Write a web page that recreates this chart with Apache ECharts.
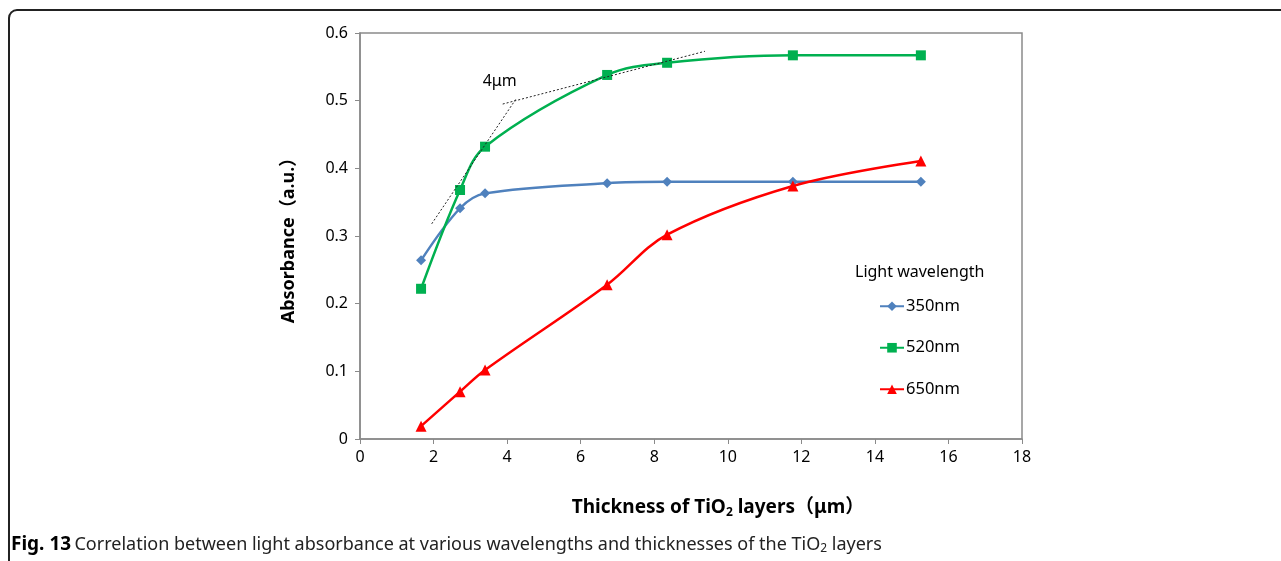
<!DOCTYPE html>
<html>
<head>
<meta charset="utf-8">
<script src="https://cdn.jsdelivr.net/npm/echarts@6/dist/echarts.min.js"></script>
<style>
html,body{margin:0;padding:0;background:#fff;}
#chart_abs{width:1281px;height:561px;}
</style>
</head>
<body>
<div id="chart_abs"></div>
<script>
// thickness of TiO2 layers (um)
var thickness = [1.66, 2.72, 3.4, 6.72, 8.35, 11.77, 15.25];
var abs350 = [0.264, 0.341, 0.363, 0.378, 0.380, 0.380, 0.380];
var abs520 = [0.222, 0.368, 0.432, 0.538, 0.556, 0.567, 0.567];
var abs650 = [0.019, 0.070, 0.102, 0.228, 0.302, 0.374, 0.411];
// dotted tangent lines around 4um
var tangentA = [[1.95, 0.318], [4.26, 0.504]];
var tangentB = [[3.88, 0.495], [9.38, 0.573]];
var seriesNames = ['350nm', '520nm', '650nm'];

function pairs(xs, ys){
    return xs.map(function(x, i){ return [x, ys[i]]; });
}

function fun_Chart_Absorbance(){
    var myChart = echarts.init(document.getElementById('chart_abs'));
    var fontFam = "'Noto Sans', 'Noto Sans CJK SC', sans-serif";
    var option = {
        animation: false,
        textStyle: { fontFamily: fontFam },
        grid: {
            left: 360,
            top: 33,
            right: 259,
            bottom: 122,
            show: true,
            borderColor: '#8a8a8a',
            borderWidth: 1.5
        },
        legend: {
            data: seriesNames,
            orient: 'vertical',
            left: 874,
            top: 293,
            itemGap: 25,
            itemWidth: 24,
            itemHeight: 12,
            textStyle: { fontSize: 16.5, color: '#000', padding: [0, 0, 0, -3] }
        },
        xAxis: {
            type: 'value',
            min: 0,
            max: 18,
            interval: 2,
            name: '{a|Thickness of TiO}{s|2}{a| layers（μm）}',
            nameLocation: 'middle',
            nameGap: 56,
            nameTextStyle: {
                padding: [0, 0, 0, 54],
                rich: {
                    a: { fontSize: 19, fontWeight: 'bold', color: '#000', lineHeight: 26, fontFamily: fontFam },
                    s: { fontSize: 12, fontWeight: 'bold', color: '#000', lineHeight: 26, padding: [10, 0, 0, 0], fontFamily: fontFam }
                }
            },
            splitLine: { show: false },
            axisLine: { lineStyle: { color: '#8a8a8a', width: 1.5 } },
            axisTick: { inside: false, length: 5, lineStyle: { color: '#8a8a8a' } },
            axisLabel: { fontSize: 16, color: '#000', margin: 10 }
        },
        yAxis: {
            type: 'value',
            min: 0,
            max: 0.6,
            interval: 0.1,
            name: 'Absorbance（a.u.）',
            nameLocation: 'middle',
            nameGap: 62,
            nameTextStyle: { fontSize: 18, fontWeight: 'bold', color: '#000' },
            splitLine: { show: false },
            axisLine: { show: true, lineStyle: { color: '#8a8a8a', width: 1.5 } },
            axisTick: { show: true, length: 5, lineStyle: { color: '#8a8a8a' } },
            axisLabel: { fontSize: 16, color: '#000', margin: 12 }
        },
        graphic: [
            {
                type: 'rect',
                shape: { x: 9, y: 10, width: 1300, height: 600, r: 8 },
                style: { fill: 'none', stroke: '#222', lineWidth: 2 }
            },
            {
                type: 'text',
                left: 855,
                top: 264,
                style: { text: 'Light wavelength', fontSize: 16, fill: '#000', fontFamily: fontFam }
            },
            {
                type: 'text',
                left: 11,
                top: 535,
                style: {
                    text: '{b|Fig. 13} {r|Correlation between light absorbance at various wavelengths and thicknesses of the TiO}{s|2}{r| layers}',
                    rich: {
                        b: { fontSize: 19, fontWeight: 'bold', fill: '#000', fontFamily: fontFam },
                        r: { fontSize: 18, fill: '#222', fontFamily: fontFam },
                        s: { fontSize: 12, fill: '#222', padding: [9, 0, 0, 0], fontFamily: fontFam }
                    }
                }
            }
        ],
        series: [
            {
                name: '350nm',
                type: 'line',
                smooth: 0.35,
                data: pairs(thickness, abs350),
                symbol: 'diamond',
                symbolSize: 10,
                color: '#4F81BD',
                lineStyle: { color: '#4F81BD', width: 2.5 },
                z: 3
            },
            {
                name: '520nm',
                type: 'line',
                smooth: 0.35,
                data: pairs(thickness, abs520),
                symbol: 'rect',
                symbolSize: 10,
                color: '#00B050',
                lineStyle: { color: '#00B050', width: 2.5 },
                z: 4
            },
            {
                name: '650nm',
                type: 'line',
                smooth: 0.35,
                data: pairs(thickness, abs650),
                symbol: 'triangle',
                symbolSize: 11,
                color: '#FF0000',
                lineStyle: { color: '#FF0000', width: 2.5 },
                z: 3
            },
            {
                name: 'tangentA',
                type: 'line',
                data: tangentA,
                symbol: 'none',
                lineStyle: { color: '#222', width: 1, type: [2, 2] },
                z: 5,
                markPoint: {
                    symbol: 'circle',
                    symbolSize: 0,
                    data: [{ coord: [3.8, 0.528] }],
                    label: { show: true, formatter: '4μm', color: '#000', fontSize: 16, position: 'inside' }
                }
            },
            {
                name: 'tangentB',
                type: 'line',
                data: tangentB,
                symbol: 'none',
                lineStyle: { color: '#222', width: 1, type: [2, 2] },
                z: 5
            }
        ]
    };
    myChart.setOption(option);
}
fun_Chart_Absorbance();
</script>
</body>
</html>
